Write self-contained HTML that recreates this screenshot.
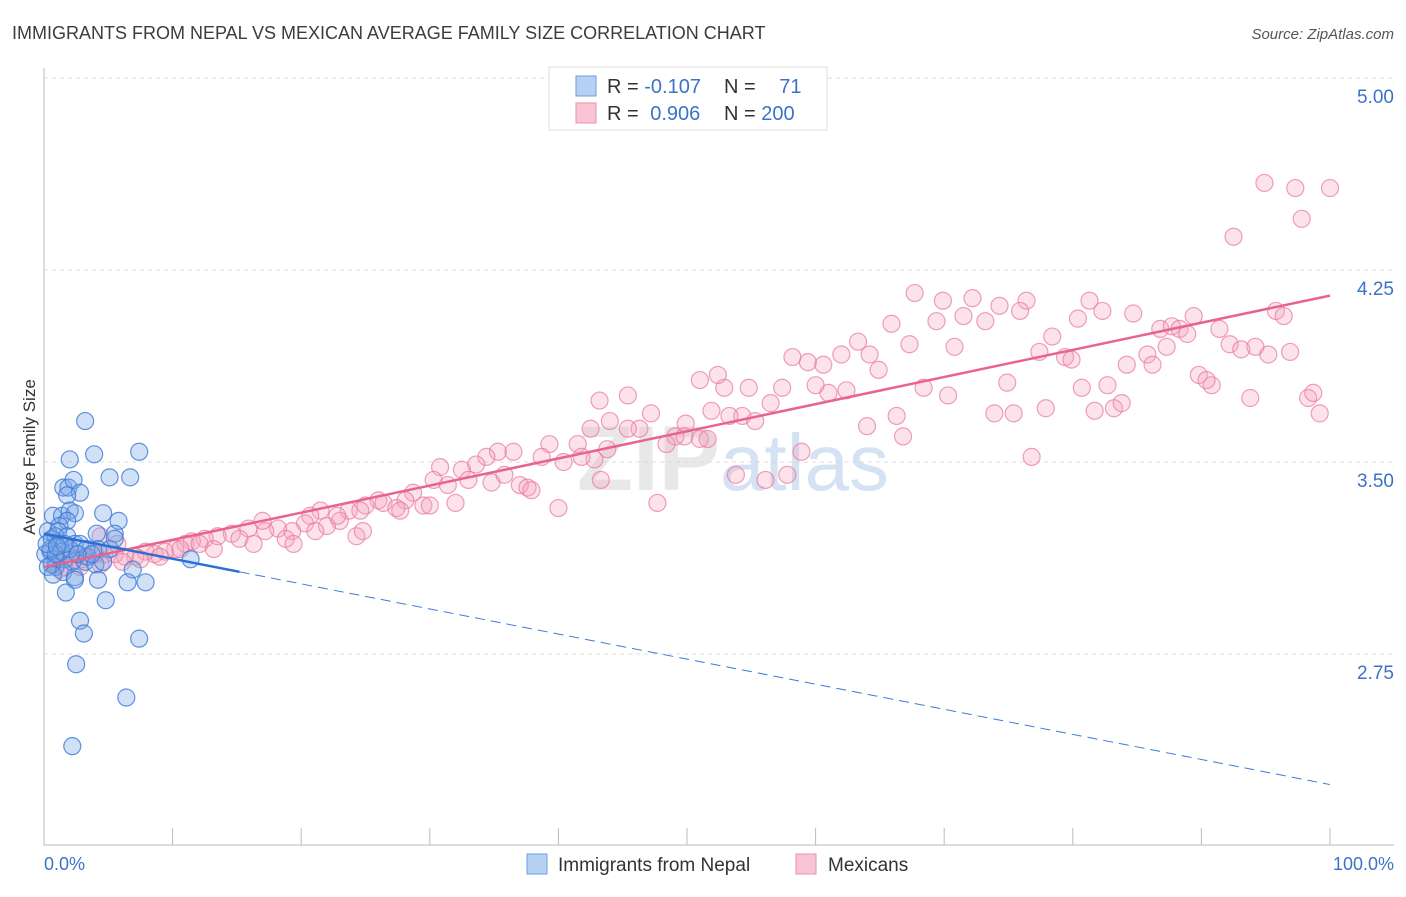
<!DOCTYPE html>
<html><head><meta charset="utf-8"><style>
body{margin:0;background:#fff;font-family:"Liberation Sans",sans-serif}
svg text{font-family:"Liberation Sans",sans-serif}
</style></head><body>
<svg id="chart" width="1406" height="892" viewBox="0 0 1406 892">
<text x="12" y="39" font-size="18" fill="#3c3c3c">IMMIGRANTS FROM NEPAL VS MEXICAN AVERAGE FAMILY SIZE CORRELATION CHART</text>
<text x="1394" y="39" font-size="15" fill="#555" font-style="italic" text-anchor="end">Source: ZipAtlas.com</text>
<g id="grid"></g>
<text x="720" y="490" font-size="92" font-weight="bold" fill="#d9d9d9" opacity="0.6" text-anchor="end">ZIP</text>
<text x="720" y="490" font-size="80" fill="#b9d0ec" opacity="0.6">atlas</text>
<line x1="44" y1="68" x2="44" y2="845" stroke="#bbb"/>
<line x1="44" y1="845" x2="1394" y2="845" stroke="#bbb"/>
<g id="xticks"></g>
<g id="pinkPts"></g>
<g id="bluePts"></g>
<g id="trends"></g>
<text x="35" y="457" font-size="17" fill="#333" text-anchor="middle" transform="rotate(-90 35 457)">Average Family Size</text>
<text x="44" y="870" font-size="18" fill="#3b73c8">0.0%</text>
<text x="1394" y="870" font-size="18" fill="#3b73c8" text-anchor="end">100.0%</text>
<g>
<rect x="549" y="67" width="278" height="63" fill="#fff" stroke="#ddd"/>
<rect x="576" y="76" width="20" height="20" fill="#b7d1f3" stroke="#6d9ee0"/>
<rect x="576" y="103" width="20" height="20" fill="#f9c4d4" stroke="#eb92ae"/>
<text x="607" y="93" font-size="20" fill="#333">R = <tspan fill="#3b73c8">-0.107</tspan></text>
<text x="724" y="93" font-size="20" fill="#333">N = <tspan fill="#3b73c8" dx="18">71</tspan></text>
<text x="607" y="120" font-size="20" fill="#333">R = <tspan fill="#3b73c8" dx="6">0.906</tspan></text>
<text x="724" y="120" font-size="20" fill="#333">N = <tspan fill="#3b73c8">200</tspan></text>
</g>
<g>
<rect x="527" y="854" width="20" height="20" fill="#b7d1f3" stroke="#6d9ee0"/>
<text x="558" y="871" font-size="19" fill="#333">Immigrants from Nepal</text>
<rect x="796" y="854" width="20" height="20" fill="#f9c4d4" stroke="#eb92ae"/>
<text x="828" y="871" font-size="19" fill="#333">Mexicans</text>
</g>
</svg>
<script>
const yTicks=[5.00,4.25,3.50,2.75];
const yTickLabels=["5.00","4.25","3.50","2.75"];
const xTickVals=[0,10,20,30,40,50,60,70,80,90,100];
const pinkX=[94.9,97.3,100,97.8,92.5,67.7,69.9,72.2,74.3,76.4,81.3,80.4,82.3,84.7,75.9,71.5,73.2,69.4,65.9,63.3,62.0,64.2,67.3,70.8,78.4,77.4,79.4,79.9,85.8,86.8,87.7,88.3,88.9,89.4,91.4,87.3,92.2,93.1,94.2,95.8,96.4,95.2,96.9,89.8,90.8,90.4,93.8,98.3,98.7,99.2,84.2,86.2,82.7,80.7,81.7,83.2,83.8,76.8,77.9,74.9,73.9,75.4,70.3,68.4,64.0,66.3,66.8,64.9,62.4,61.0,60.0,59.4,60.6,58.2,57.4,54.8,52.9,52.4,51.0,56.5,54.3,55.3,53.3,51.9,49.9,49.1,51.0,48.4,47.2,46.3,45.4,44.0,42.5,45.4,43.8,42.8,41.5,39.3,38.7,40.4,41.8,43.3,35.3,36.5,34.4,33.6,32.5,30.8,30.3,31.4,33.0,34.8,35.8,37.0,37.6,37.9,28.7,29.5,28.1,26.0,26.4,25.0,23.7,24.6,27.4,27.7,30.0,32.0,40.0,47.7,43.2,51.6,53.8,56.1,57.8,58.9,49.8,21.5,20.7,23.0,20.3,19.3,18.2,17.2,15.9,14.6,13.5,12.5,11.5,11.0,10.2,9.4,8.6,7.9,7.1,6.3,5.5,4.7,4.0,3.2,2.4,1.6,0.9,1.2,2.8,4.4,6.1,7.5,9.0,10.6,12.1,13.2,15.2,16.3,17.0,18.8,19.4,22.0,22.8,24.3,24.8,21.1,4.4,5.7,3.0,2.0];
const pinkY=[4.59,4.57,4.57,4.45,4.38,4.16,4.13,4.14,4.11,4.13,4.13,4.06,4.09,4.08,4.09,4.07,4.05,4.05,4.04,3.97,3.92,3.92,3.96,3.95,3.99,3.93,3.91,3.90,3.92,4.02,4.03,4.02,4.00,4.07,4.02,3.95,3.96,3.94,3.95,4.09,4.07,3.92,3.93,3.84,3.80,3.82,3.75,3.75,3.77,3.69,3.88,3.88,3.80,3.79,3.70,3.71,3.73,3.52,3.71,3.81,3.69,3.69,3.76,3.79,3.64,3.68,3.60,3.86,3.78,3.77,3.80,3.89,3.88,3.91,3.79,3.79,3.79,3.84,3.82,3.73,3.68,3.66,3.68,3.70,3.65,3.60,3.59,3.57,3.69,3.63,3.76,3.66,3.63,3.63,3.55,3.51,3.57,3.57,3.52,3.50,3.52,3.43,3.54,3.54,3.52,3.49,3.47,3.48,3.43,3.41,3.43,3.42,3.45,3.41,3.40,3.39,3.38,3.33,3.35,3.35,3.34,3.33,3.31,3.31,3.32,3.31,3.33,3.34,3.32,3.34,3.74,3.59,3.45,3.43,3.45,3.54,3.60,3.31,3.29,3.27,3.26,3.23,3.24,3.23,3.24,3.22,3.21,3.20,3.19,3.18,3.16,3.15,3.14,3.15,3.13,3.13,3.14,3.14,3.14,3.13,3.12,3.09,3.10,3.08,3.09,3.10,3.11,3.12,3.13,3.16,3.18,3.16,3.20,3.18,3.27,3.20,3.18,3.25,3.29,3.21,3.23,3.23,3.21,3.18,3.12,3.14];
const nepalX=[3.2,3.9,2.0,7.4,1.5,1.9,2.3,2.8,5.1,6.7,1.8,0.7,1.4,2.0,2.4,1.8,1.2,0.3,1.1,4.6,5.8,4.1,5.5,0.6,0.9,1.8,2.4,2.8,1.4,0.5,0.1,0.9,1.6,2.2,3.2,4.2,5.1,3.4,4.0,0.9,1.5,2.4,0.6,0.3,4.6,6.9,4.2,6.5,7.9,2.4,1.7,4.8,2.8,3.1,7.4,2.5,6.4,2.2,11.4,5.5,1.2,0.5,2.0,0.9,3.3,3.7,2.6,1.6,0.7,0.2,1.0];
const nepalY=[3.66,3.53,3.51,3.54,3.40,3.40,3.43,3.38,3.44,3.44,3.37,3.29,3.29,3.31,3.30,3.27,3.25,3.23,3.23,3.30,3.27,3.22,3.22,3.20,3.21,3.21,3.18,3.18,3.15,3.15,3.14,3.12,3.12,3.11,3.11,3.16,3.16,3.13,3.10,3.09,3.07,3.05,3.10,3.09,3.11,3.08,3.04,3.03,3.03,3.04,2.99,2.96,2.88,2.83,2.81,2.71,2.58,2.39,3.12,3.20,3.18,3.16,3.16,3.14,3.16,3.14,3.14,3.18,3.06,3.18,3.17];
const pinkTrend=[3.09,4.15];      // y at x=0 and x=100
const nepalTrend=[3.22,2.24];     // y at x=0 and x=100
const nepalSolidEnd=[15.2];       // x where solid part ends

const NS="http://www.w3.org/2000/svg";
const X0=44,X1=1330,Y5=78,PXU=256;
function sx(v){return X0+(X1-X0)*v/100;}
function sy(v){return Y5+(5-v)*PXU;}
function mk(tag,attrs,parent){const e=document.createElementNS(NS,tag);for(const k in attrs)e.setAttribute(k,attrs[k]);parent.appendChild(e);return e;}

const grid=document.getElementById('grid');
yTicks.forEach((t,i)=>{
  const l=mk('line',{x1:44,x2:1394,y1:sy(t),y2:sy(t),stroke:'#ddd','stroke-dasharray':'4,4'},grid);
  
  
  const tx=mk('text',{x:1394,y:sy(t)+25,'font-size':19,fill:'#3b73c8','text-anchor':'end'},grid);
  tx.textContent=yTickLabels[i];
  
  
});
const xt=document.getElementById('xticks');
xTickVals.forEach(v=>{
  const l=mk('line',{x1:sx(v),x2:sx(v),y1:828,y2:845,stroke:'#bbb'},xt);
  
  
});
const pg=document.getElementById('pinkPts');
pinkX.forEach((v,i)=>{
  const c=mk('circle',{cx:sx(v),cy:sy(pinkY[i]),r:8.5,fill:'rgba(244,160,188,0.3)',stroke:'rgba(232,120,155,0.7)','stroke-width':1.2},pg);
  
  
});
const bg=document.getElementById('bluePts');
nepalX.forEach((v,i)=>{
  const c=mk('circle',{cx:sx(v),cy:sy(nepalY[i]),r:8.5,fill:'rgba(120,165,230,0.35)',stroke:'rgba(60,120,215,0.8)','stroke-width':1.2},bg);
  
  
});
const tg=document.getElementById('trends');
function ty(tr,x){return tr[0]+(tr[1]-tr[0])*x/100;}
const pl=mk('line',{x1:sx(0),y1:sy(pinkTrend[0]),x2:sx(100),y2:sy(pinkTrend[1]),stroke:'#e8648f','stroke-width':2.5},tg);


const bl=mk('line',{x1:sx(0),y1:sy(nepalTrend[0]),x2:sx(nepalSolidEnd[0]),y2:sy(ty(nepalTrend,nepalSolidEnd[0])),stroke:'#2a6fd6','stroke-width':2.5},tg);


const bd=mk('line',{x1:sx(nepalSolidEnd[0]),y1:sy(ty(nepalTrend,nepalSolidEnd[0])),x2:sx(100),y2:sy(nepalTrend[1]),stroke:'#3b7bd8','stroke-width':1,'stroke-dasharray':'10,6'},tg);


</script>
</body></html>
